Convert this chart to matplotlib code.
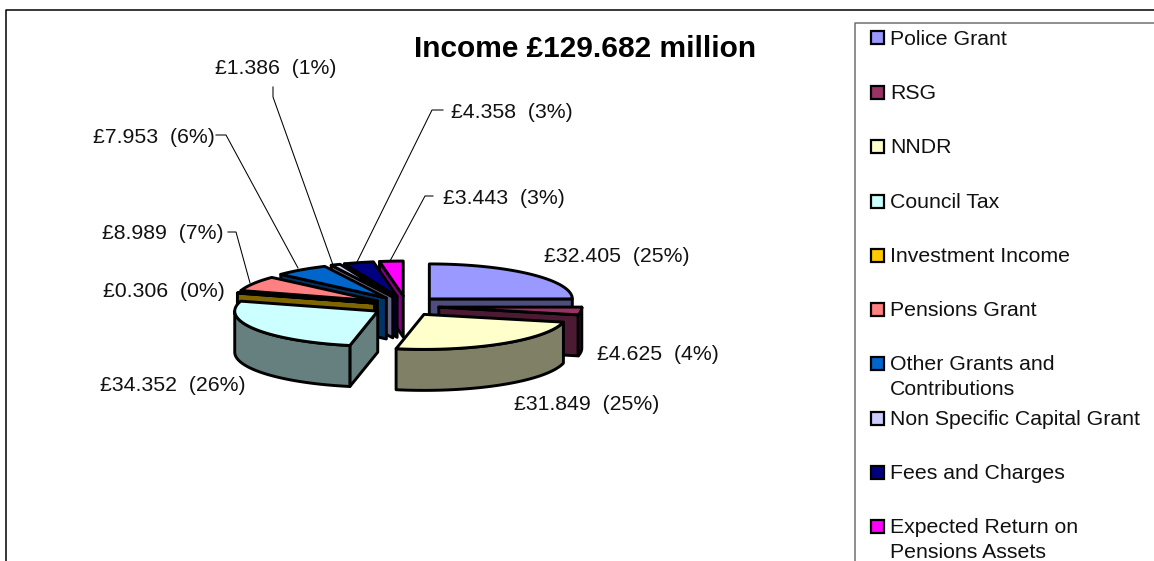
import numpy as np
import matplotlib
matplotlib.use("Agg")
import matplotlib.pyplot as plt
from matplotlib.patches import Polygon, Rectangle

plt.rcParams['font.family'] = ['Liberation Sans', 'DejaVu Sans']

categories = ["Police Grant", "RSG", "NNDR", "Council Tax", "Investment Income",
              "Pensions Grant", "Other Grants and\nContributions",
              "Non Specific Capital Grant", "Fees and Charges",
              "Expected Return on\nPensions Assets"]
values = [32.405, 4.625, 31.849, 34.352, 0.306, 8.989, 7.953, 1.386, 4.358, 3.443]
percents = [25, 4, 25, 26, 0, 7, 6, 1, 3, 3]
colors = ["#9999FF", "#993366", "#FFFFCC", "#CCFFFF", "#FFCC00",
          "#FF8080", "#0066CC", "#CCCCFF", "#000080", "#FF00FF"]
title = "Income £129.682 million"
label_xy = [(544, 255), (597, 353), (514, 403), (100, 384), (103, 290),
            (102, 232), (93, 136), (215, 67), (451, 111), (443, 197)]
leaders = [None, None, None, None, None,
           ((228, 232), (236, 232), (250, 283)),
           ((216, 135), (226, 135), (298, 268)),
           ((273, 87), (273, 97), (333, 265)),
           ((443, 110), (432, 110), (357, 262)),
           ((433, 196), (425, 196), (390, 261))]
legend_y = [37.5, 92, 146, 201, 255, 309, 363, 418, 472, 526]

fig = plt.figure(figsize=(11.54, 5.61), dpi=100)
ax = fig.add_axes([0, 0, 1, 1])
ax.set_xlim(0, 1154)
ax.set_ylim(561, 0)
ax.axis('off')

CX, CY, RX, RY, DEPTH, EX, EY = 406, 306, 143, 35, 41, 33, 10
LW = 2.1
FS = 15.3

def shade(c):
    r = matplotlib.colors.to_rgb(c)
    return tuple(v * 0.5 for v in r)

def pt(apex, t, z=0):
    return (apex[0] + RX * np.sin(t), apex[1] - RY * np.cos(t) + z)

total = sum(values)
edges = np.concatenate([[0], np.cumsum(values)]) / total * 2 * np.pi
slices = []
for i in range(len(values)):
    t1, t2 = edges[i], edges[i + 1]
    m = (t1 + t2) / 2
    apex = (CX + EX * np.sin(m), CY - EY * np.cos(m))
    slices.append((apex[1] + RY * 0.4 * -np.cos(m), i, t1, t2, apex))

for _, i, t1, t2, apex in sorted(slices, key=lambda s: s[0]):
    c = colors[i]
    dark = shade(c)
    def wall(pts):
        poly = list(pts) + [(x, y + DEPTH) for x, y in reversed(pts)]
        ax.add_patch(Polygon(poly, closed=True, fc=dark, ec='black', lw=LW, joinstyle='round'))
    if np.sin(t1) < 0:
        wall([apex, pt(apex, t1)])
    if np.sin(t2) > 0:
        wall([apex, pt(apex, t2)])
    a, b = max(t1, np.pi / 2), min(t2, 3 * np.pi / 2)
    if a < b:
        wall([pt(apex, t) for t in np.linspace(a, b, 60)])
    top = [apex] + [pt(apex, t) for t in np.linspace(t1, t2, 80)]
    ax.add_patch(Polygon(top, closed=True, fc=c, ec='black', lw=LW, joinstyle='round'))

for v, p, (x, y) in zip(values, percents, label_xy):
    ax.text(x, y + 7, f"£{v:.3f}  ({p}%)", fontsize=FS, va='baseline', ha='left', color='#111111')
for seg in leaders:
    if seg:
        ax.plot([s[0] for s in seg], [s[1] for s in seg], color='black', lw=0.75)

ax.text(585, 57, title, fontsize=21.5, fontweight='bold', ha='center', va='baseline')

# outer frame and legend box
ax.plot([6, 6, 1154], [561, 10, 10], color='black', lw=1.1)
ax.plot([854.5, 854.5, 1154], [561, 23, 23], color='#707070', lw=1.1)
for name, c, y in zip(categories, colors, legend_y):
    ax.add_patch(Rectangle((871, y - 6.5), 13, 13, fc=c, ec='black', lw=1.6))
    first, *rest = name.split("\n")
    ax.text(890, y + 7, first, fontsize=FS, va='baseline', ha='left', color='#111111')
    for k, line in enumerate(rest, 1):
        ax.text(890, y + 7 + 25 * k, line, fontsize=FS, va='baseline', ha='left', color='#111111')

fig.savefig('out.png', dpi=100)
